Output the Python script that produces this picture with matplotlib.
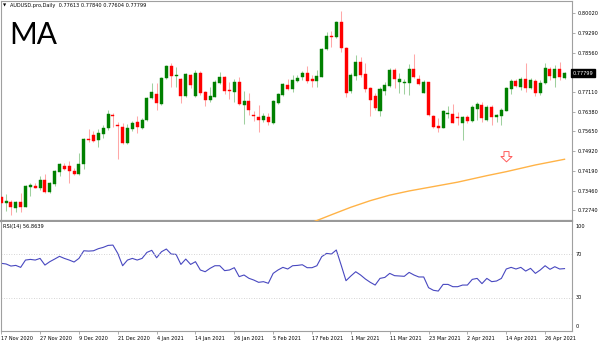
import numpy as np
import matplotlib
matplotlib.use('Agg')
import matplotlib.pyplot as plt
import matplotlib.transforms as mtransforms
from matplotlib.path import Path

# AUDUSD daily bars, 17 Nov 2020 .. 30 Apr 2021
opens = [0.73223, 0.73001, 0.73049, 0.72827, 0.73027, 0.72864, 0.73593, 0.73630, 0.73567, 0.73852,
         0.73397, 0.73704, 0.74159, 0.74381, 0.74359, 0.74185, 0.74085, 0.74433, 0.75369, 0.75517,
         0.75332, 0.75554, 0.75765, 0.76257, 0.75887, 0.75824, 0.75210, 0.75750, 0.76009, 0.75765,
         0.76072, 0.76875, 0.77023, 0.76653, 0.77615, 0.78070, 0.77700, 0.77578, 0.76971, 0.77737,
         0.76971, 0.77800, 0.77097, 0.76812, 0.76934, 0.77452, 0.77652, 0.77182, 0.77119, 0.77489,
         0.76616, 0.76775, 0.76257, 0.76194, 0.76072, 0.76172, 0.75972, 0.76690, 0.76997, 0.77367,
         0.77208, 0.77526, 0.77652, 0.77822, 0.77578, 0.77515, 0.77674, 0.78699, 0.79180, 0.79132,
         0.79687, 0.78725, 0.77156, 0.77700, 0.78207, 0.77774, 0.77267, 0.76960, 0.76405, 0.77156,
         0.77330, 0.77922, 0.77489, 0.77430, 0.77452, 0.77959, 0.77589, 0.77082, 0.77467, 0.76220,
         0.75850, 0.75787, 0.76294, 0.76294, 0.76164, 0.75950, 0.76172, 0.76046, 0.76479, 0.76627,
         0.76072, 0.76542, 0.76172, 0.76220, 0.76416, 0.77208, 0.77515, 0.77282, 0.77589, 0.77267,
         0.77515, 0.77060, 0.77430, 0.77948, 0.77615, 0.77948, 0.77613]
highs = [0.73408, 0.73334, 0.73112, 0.73075, 0.73382, 0.73667, 0.73752, 0.73730, 0.74000, 0.74074,
         0.73778, 0.74222, 0.74470, 0.74470, 0.74566, 0.74277, 0.74862, 0.75387, 0.75739, 0.75665,
         0.75739, 0.75887, 0.76442, 0.76320, 0.75998, 0.75950, 0.75924, 0.76035, 0.76220, 0.76146,
         0.76923, 0.77430, 0.77430, 0.77663, 0.78107, 0.78170, 0.78022, 0.77615, 0.77811, 0.77774,
         0.77922, 0.77885, 0.77145, 0.77282, 0.77552, 0.77859, 0.77700, 0.77489, 0.77578, 0.77652,
         0.77156, 0.77060, 0.76416, 0.76627, 0.76320, 0.76320, 0.76812, 0.77071, 0.77441, 0.77578,
         0.77737, 0.77737, 0.77896, 0.78070, 0.77737, 0.77922, 0.78736, 0.79339, 0.79376, 0.79746,
         0.80105, 0.78784, 0.77800, 0.78477, 0.78414, 0.78170, 0.77304, 0.77060, 0.77304, 0.77489,
         0.77985, 0.77985, 0.77800, 0.77578, 0.78144, 0.78514, 0.77737, 0.77552, 0.77478, 0.76257,
         0.76135, 0.76442, 0.76590, 0.76664, 0.76379, 0.76220, 0.76257, 0.76627, 0.76749, 0.76749,
         0.76627, 0.76627, 0.76294, 0.76505, 0.77304, 0.77578, 0.77578, 0.77674, 0.78170, 0.77615,
         0.77578, 0.77552, 0.78170, 0.78044, 0.78107, 0.78229, 0.77840]
lows = [0.72890, 0.72705, 0.72557, 0.72679, 0.72679, 0.72853, 0.73260, 0.73545, 0.73482, 0.73382,
        0.73371, 0.73630, 0.74000, 0.74222, 0.73730, 0.74037, 0.74037, 0.74248, 0.75269, 0.75269,
        0.75084, 0.75395, 0.75702, 0.75824, 0.74629, 0.75184, 0.75184, 0.75665, 0.75580, 0.75739,
        0.76035, 0.76849, 0.76442, 0.76627, 0.77589, 0.77282, 0.77304, 0.76690, 0.76923, 0.77256,
        0.76923, 0.76997, 0.76590, 0.76749, 0.76923, 0.77404, 0.77034, 0.76838, 0.76727, 0.76627,
        0.75924, 0.76257, 0.76046, 0.75639, 0.76009, 0.75887, 0.75924, 0.76664, 0.76960, 0.77182,
        0.77119, 0.77489, 0.77552, 0.77452, 0.77282, 0.77282, 0.77663, 0.78662, 0.78784, 0.79106,
        0.78599, 0.76934, 0.77060, 0.77552, 0.77674, 0.77119, 0.76220, 0.76442, 0.76220, 0.76997,
        0.77304, 0.77245, 0.77060, 0.77034, 0.76997, 0.77615, 0.77367, 0.77060, 0.76220, 0.75765,
        0.75639, 0.75776, 0.76135, 0.75950, 0.75887, 0.75332, 0.75950, 0.76009, 0.76072, 0.76009,
        0.76046, 0.75887, 0.76009, 0.75887, 0.76405, 0.77034, 0.77304, 0.77182, 0.77119, 0.77219,
        0.76960, 0.76997, 0.77404, 0.77552, 0.77282, 0.77552, 0.77604]
closes = [0.73001, 0.73075, 0.72842, 0.73027, 0.72864, 0.73630, 0.73667, 0.73567, 0.73852, 0.73419,
          0.73730, 0.74174, 0.74433, 0.74270, 0.74185, 0.74085, 0.74433, 0.75369, 0.75332, 0.75306,
          0.75602, 0.75787, 0.76294, 0.76231, 0.75861, 0.75210, 0.75787, 0.75950, 0.75824, 0.76072,
          0.76875, 0.77108, 0.76690, 0.77615, 0.78070, 0.77700, 0.77737, 0.76971, 0.77763, 0.77367,
          0.77822, 0.77060, 0.76812, 0.76971, 0.77489, 0.77674, 0.77145, 0.77134, 0.77489, 0.76653,
          0.76775, 0.76442, 0.76220, 0.76072, 0.76220, 0.76009, 0.76786, 0.77034, 0.77404, 0.77230,
          0.77552, 0.77637, 0.77822, 0.77526, 0.77526, 0.77700, 0.78699, 0.79180, 0.79132, 0.79687,
          0.78747, 0.77060, 0.77737, 0.78207, 0.77737, 0.77208, 0.76812, 0.76505, 0.77230, 0.77367,
          0.77922, 0.77578, 0.77578, 0.77489, 0.77959, 0.77652, 0.77393, 0.77467, 0.76257, 0.75802,
          0.75787, 0.76416, 0.76342, 0.75972, 0.76127, 0.76172, 0.76046, 0.76542, 0.76664, 0.76135,
          0.76564, 0.76172, 0.76246, 0.76442, 0.77245, 0.77515, 0.77330, 0.77578, 0.77245, 0.77552,
          0.77082, 0.77430, 0.78007, 0.77700, 0.77948, 0.77652, 0.77799]

# RSI(14) per bar
rsi = [61.7, 61.1, 59.2, 59.8, 58.0, 64.7, 65.3, 64.7, 66.2, 60.1,
       63.2, 65.6, 68.1, 66.2, 64.7, 62.9, 66.2, 73.2, 72.9, 73.2,
       75.1, 76.3, 78.1, 78.4, 70.8, 59.5, 64.7, 66.2, 64.7, 66.2,
       71.7, 73.6, 66.8, 72.3, 74.8, 70.2, 69.9, 60.7, 65.6, 60.7,
       63.2, 55.6, 54.0, 57.1, 59.5, 59.5, 55.0, 55.6, 57.7, 49.5,
       51.0, 48.0, 46.4, 44.3, 44.9, 43.4, 52.5, 55.6, 58.0, 56.5,
       59.5, 59.8, 60.4, 57.7, 57.7, 59.5, 67.8, 70.8, 70.2, 73.9,
       60.1, 45.8, 50.1, 54.0, 51.0, 47.3, 44.3, 41.8, 47.9, 48.8,
       52.5, 50.4, 50.1, 49.8, 53.4, 51.0, 49.2, 49.2, 39.4, 37.0,
       36.3, 42.4, 42.4, 40.3, 40.3, 41.8, 41.8, 47.0, 47.9, 43.1,
       47.9, 44.9, 45.5, 47.9, 56.5, 58.0, 56.5, 58.0, 54.6, 57.1,
       52.5, 55.6, 59.5, 56.2, 58.6, 56.5, 56.86]

# long moving average, only its tail is inside the price window
ma_bars = [64, 68, 72, 76, 80, 84, 88, 94, 100, 104, 110, 116]
ma_values = [0.72280, 0.72564, 0.72842, 0.73086, 0.73290, 0.73445,
             0.73575, 0.73771, 0.74011, 0.74159, 0.74407, 0.74618]

arrow_bar = 104
arrow_price = 0.74721

price_ticks = [0.80020, 0.79290, 0.78560, 0.77110, 0.76380, 0.75650,
               0.74920, 0.74190, 0.73460, 0.72740]
last_price = 0.77799

date_bars = [0, 8, 16, 24, 32, 40, 48, 56, 64, 72, 80, 88, 96, 104, 112]
date_labels = ['17 Nov 2020', '27 Nov 2020', '9 Dec 2020', '21 Dec 2020', '4 Jan 2021',
               '14 Jan 2021', '26 Jan 2021', '5 Feb 2021', '17 Feb 2021', '1 Mar 2021',
               '11 Mar 2021', '23 Mar 2021', '2 Apr 2021', '14 Apr 2021', '26 Apr 2021']

W, H = 600, 341
GRID = '#a0a0a0'
SMALL = 3.6

o = np.array(opens)
h = np.array(highs)
l = np.array(lows)
c = np.array(closes)
x = np.arange(len(o))
up = c >= o

fig = plt.figure(figsize=(W / 100, H / 100), dpi=100)
fig.patch.set_facecolor('white')


def rect(x0, y0, x1, y1):
    # pixel box -> figure fraction [left, bottom, width, height]
    return [x0 / W, 1 - y1 / H, (x1 - x0) / W, (y1 - y0) / H]


ax = fig.add_axes(rect(0.5, 0.5, 572.3, 221))
ax_rsi = fig.add_axes(rect(0.5, 221.5, 572.3, 330.7), sharex=ax)

# candles
body_col = np.where(up, '#008000', '#ff0000')
wick_col = np.where(up, '#9fd09f', '#ffa8a8')
ax.vlines(x, l, h, colors=wick_col, linewidth=0.75, zorder=2)
ax.bar(x, c - o, bottom=o, width=0.62, color=body_col, edgecolor=body_col,
       linewidth=0.3, zorder=3)

ax.plot(ma_bars, ma_values, color='#ffb347', linewidth=1.0, zorder=4)

# down-arrow object
arrow = Path([(-0.28, 0.55), (0.28, 0.55), (0.28, 0.0), (0.62, 0.0), (0.0, -0.6),
              (-0.62, 0.0), (-0.28, 0.0), (-0.28, 0.55)],
             [Path.MOVETO] + [Path.LINETO] * 6 + [Path.CLOSEPOLY])
ax.plot([arrow_bar], [arrow_price], marker=arrow, markersize=8, markerfacecolor='white',
        markeredgecolor='#ff5a5a', markeredgewidth=0.7, linestyle='none', zorder=5)

ax.set_xlim(-0.15, 117.6)
ax.set_ylim(0.72333, 0.80494)

ax.yaxis.tick_right()
ax.set_yticks(price_ticks)
ax.set_yticklabels([f'{p:.5f}' for p in price_ticks])
ax.tick_params(axis='y', length=2, width=0.6, color=GRID, labelsize=SMALL, pad=1.5)
ax.tick_params(axis='x', length=0, labelbottom=False)

tr = mtransforms.blended_transform_factory(ax.transAxes, ax.transData)
ax.text(1.0, last_price, f'{last_price:.5f}', transform=tr, color='white', fontsize=SMALL,
        ha='left', va='center',
        bbox=dict(boxstyle='square,pad=0.3', facecolor='black', edgecolor='black'))

# RSI window
ax_rsi.plot(x, rsi, color='#4848c0', linewidth=0.8)
for lvl in (70, 30):
    ax_rsi.axhline(lvl, color='#c8c8c8', linewidth=0.6, linestyle=(0, (1, 2)))
ax_rsi.set_ylim(0, 100)
ax_rsi.set_yticks([])
rtr = mtransforms.blended_transform_factory(ax_rsi.transAxes, ax_rsi.transData)
for lbl, v in [('100', 95.8), ('70', 70), ('30', 30), ('0', 3.4)]:
    ax_rsi.text(1.006, v, lbl, transform=rtr, fontsize=SMALL, ha='left', va='center')

ax_rsi.set_xticks(date_bars)
ax_rsi.set_xticklabels(date_labels, ha='left')
ax_rsi.tick_params(axis='x', length=2, width=0.6, color=GRID, labelsize=SMALL, pad=1.5)

for a in (ax, ax_rsi):
    a.set_facecolor('white')
    for s in a.spines.values():
        s.set_color(GRID)
        s.set_linewidth(0.8)
ax.spines['bottom'].set_linewidth(1.6)
ax.spines['bottom'].set_color('#999999')
ax_rsi.spines['top'].set_visible(False)

# header texts
fig.text(3 / W, 1 - 5.7 / H, '\u25bc', fontsize=3.0, va='center', ha='left')
fig.text(9.5 / W, 1 - 5.7 / H, 'AUDUSD.pro,Daily  0.77613 0.77840 0.77604 0.77799',
         fontsize=SMALL, va='center', ha='left')
fig.text(9 / W, 1 - 44.5 / H, 'MA', fontsize=21.5, family='Lato', va='baseline', ha='left')
ax_rsi.text(0.004, 95.8, 'RSI(14) 56.8639', transform=rtr, fontsize=SMALL,
            ha='left', va='center')

fig.savefig('out.png', dpi=100, facecolor='white')
